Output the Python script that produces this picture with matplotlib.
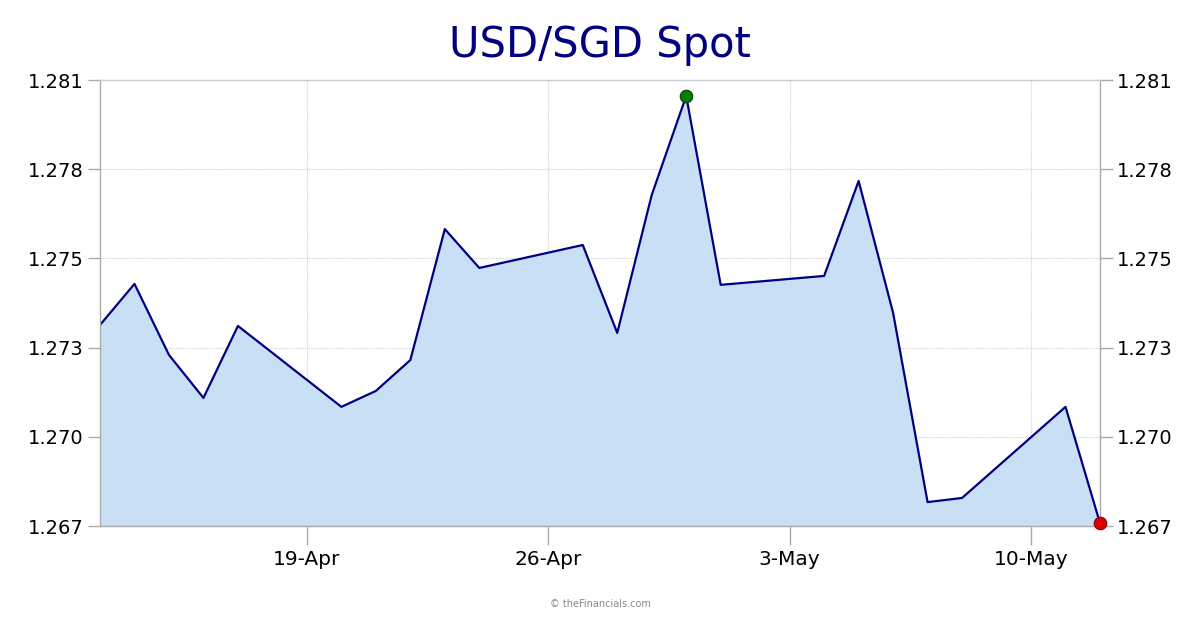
import matplotlib
matplotlib.use("Agg")
import matplotlib.pyplot as plt
import numpy as np
import pandas as pd
# -----------------------------------------------------------------------------|
dates = ["2020-04-13", "2020-04-14", "2020-04-15", "2020-04-16", "2020-04-17",
         "2020-04-20", "2020-04-21", "2020-04-22", "2020-04-23", "2020-04-24",
         "2020-04-27", "2020-04-28", "2020-04-29", "2020-04-30", "2020-05-01",
         "2020-05-04", "2020-05-05", "2020-05-06", "2020-05-07", "2020-05-08",
         "2020-05-11", "2020-05-12"]
rates = [1.27331, 1.27460, 1.27237, 1.27102, 1.27328,
         1.27074, 1.27124, 1.27221, 1.27632, 1.27510,
         1.27582, 1.27306, 1.27739, 1.28050, 1.27457,
         1.27485, 1.27783, 1.27369, 1.26775, 1.26788,
         1.27074, 1.26709]
tick_dates = ["2020-04-19", "2020-04-26", "2020-05-03", "2020-05-10"]
tick_labels = ["19-Apr", "26-Apr", "3-May", "10-May"]
y_min, y_max = 1.267, 1.281
# -----------------------------------------------------------------------------|


def main():
    x = pd.to_datetime(dates)
    y = np.array(rates)
    navy = "#000080"
    edge = "#aaaaaa"

    fig = plt.figure(figsize=(12, 6.3), dpi=100)
    ax = fig.add_axes([100 / 1200, 104 / 630, 1000 / 1200, 446 / 630])

    # grid sits behind the filled area
    ax.set_axisbelow(True)
    ax.grid(True, color="#cfcfcf", linestyle=(0, (1, 1)), linewidth=0.8)

    ax.fill_between(x, y, y_min, color="#c9dff5", linewidth=0, zorder=1)
    ax.plot(x, y, color=navy, linewidth=1.6, zorder=2)

    i_max = int(np.argmax(y))
    i_min = int(np.argmin(y))
    ax.plot(x[i_max], y[i_max], "o", ms=9, mfc="#008000", mec="#0b3d0b",
            mew=0.8, clip_on=False, zorder=5)
    ax.plot(x[i_min], y[i_min], "o", ms=9, mfc="#e00000", mec="#7a0000",
            mew=0.8, clip_on=False, zorder=5)

    ax.set_xlim(pd.Timestamp("2020-04-13"), pd.Timestamp("2020-05-12"))
    ax.set_ylim(y_min, y_max)

    ax.set_xticks(pd.to_datetime(tick_dates))
    ax.set_xticklabels(tick_labels)
    yt = np.linspace(y_min, y_max, 6)
    ax.set_yticks(yt)
    ax.set_yticklabels(["{:.3f}".format(v) for v in yt])

    ax.tick_params(axis="x", length=14, width=1, color=edge, pad=3,
                   labelsize=14.5, labelcolor="black")
    ax.tick_params(axis="y", length=9, width=1, color=edge, pad=3,
                   labelsize=14, labelcolor="black",
                   left=True, right=True, labelleft=True, labelright=True)

    for name, sp in ax.spines.items():
        sp.set_color(edge if name != "top" else "#cccccc")
        sp.set_linewidth(1)
        sp.set_zorder(3)

    fig.text(0.5, 1 - 45 / 630, "USD/SGD Spot", ha="center", va="center",
             fontsize=30, color=navy)
    fig.text(0.5, 1 - 604 / 630, "\u00a9 theFinancials.com", ha="center",
             va="center", fontsize=7, color="#888888")

    fig.savefig("out.png", dpi=100)
# -----------------------------------------------------------------------------|


if __name__ == '__main__':
    main()
